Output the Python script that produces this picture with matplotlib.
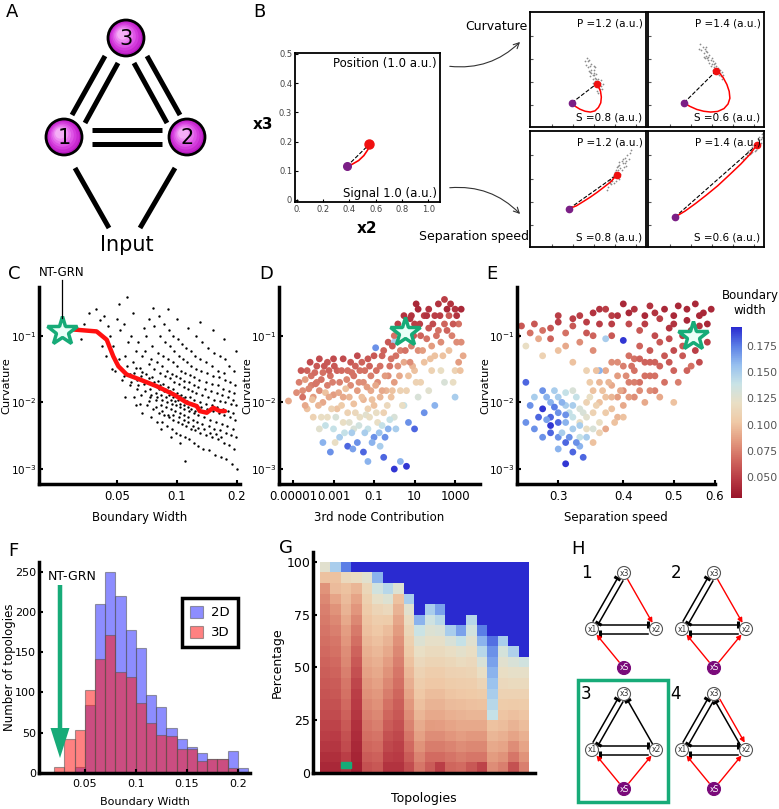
import numpy as np
import matplotlib
matplotlib.use('Agg')
import matplotlib.pyplot as plt
from matplotlib.colors import LinearSegmentedColormap
from matplotlib.patches import Circle, Rectangle, FancyArrow

W, H = 779, 809

# ---- panel B: trajectories ----
b_main_x = [0.38, 0.42, 0.47, 0.51, 0.54, 0.55]
b_main_y = [0.115, 0.122, 0.135, 0.152, 0.172, 0.19]
b_ticks_x = [0, 0.2, 0.4, 0.6, 0.8, 1.0]
b_ticklabels_x = ['0.', '0.2', '0.4', '0.6', '0.8', '1.0']
b_ticks_y = [0, 0.1, 0.2, 0.3, 0.4, 0.5]
b_ticklabels_y = ['0', '0.1', '0.2', '0.3', '0.4', '0.5']

small_titles = [('P =1.2 (a.u.)', 'S =0.8 (a.u.)'), ('P =1.4 (a.u.)', 'S =0.6 (a.u.)'),
                ('P =1.2 (a.u.)', 'S =0.8 (a.u.)'), ('P =1.4 (a.u.)', 'S =0.6 (a.u.)')]
small_curve_x = [
    [0.36, 0.39, 0.43, 0.475, 0.52, 0.56, 0.59, 0.61, 0.615, 0.608, 0.59, 0.574],
    [0.31, 0.36, 0.42, 0.48, 0.54, 0.60, 0.655, 0.69, 0.706, 0.70, 0.68, 0.648, 0.62, 0.59],
    [0.337, 0.40, 0.46, 0.52, 0.58, 0.64, 0.70, 0.746],
    [0.23, 0.32, 0.41, 0.50, 0.60, 0.70, 0.80, 0.88, 0.937],
]
small_curve_y = [
    [0.21, 0.18, 0.155, 0.137, 0.13, 0.14, 0.17, 0.21, 0.26, 0.31, 0.35, 0.375],
    [0.21, 0.18, 0.153, 0.137, 0.13, 0.135, 0.16, 0.20, 0.25, 0.31, 0.37, 0.43, 0.465, 0.49],
    [0.33, 0.355, 0.392, 0.43, 0.472, 0.518, 0.565, 0.62],
    [0.256, 0.31, 0.375, 0.445, 0.527, 0.62, 0.715, 0.80, 0.879],
]
small_clouds = [
    [(0.50, 0.57), (0.52, 0.53), (0.51, 0.49), (0.53, 0.47), (0.55, 0.45), (0.54, 0.42), (0.56, 0.40),
     (0.58, 0.40), (0.57, 0.36), (0.59, 0.35), (0.60, 0.33), (0.58, 0.31), (0.55, 0.50), (0.53, 0.55),
     (0.56, 0.43), (0.60, 0.38), (0.52, 0.44), (0.57, 0.46), (0.49, 0.60), (0.54, 0.38), (0.48, 0.54),
     (0.51, 0.58), (0.53, 0.50), (0.55, 0.47), (0.57, 0.42), (0.59, 0.42), (0.61, 0.36), (0.56, 0.52),
     (0.50, 0.52), (0.62, 0.33), (0.54, 0.45), (0.58, 0.37), (0.47, 0.57), (0.61, 0.41), (0.52, 0.48),
     (0.59, 0.30), (0.63, 0.37), (0.55, 0.53)],
    [(0.46, 0.67), (0.48, 0.64), (0.50, 0.62), (0.49, 0.60), (0.52, 0.58), (0.53, 0.56), (0.55, 0.55),
     (0.54, 0.53), (0.57, 0.52), (0.58, 0.50), (0.60, 0.48), (0.62, 0.47), (0.61, 0.45), (0.63, 0.44),
     (0.56, 0.57), (0.51, 0.65), (0.59, 0.53), (0.64, 0.42), (0.47, 0.70), (0.55, 0.60), (0.45, 0.72),
     (0.50, 0.66), (0.52, 0.61), (0.53, 0.63), (0.57, 0.55), (0.60, 0.51), (0.62, 0.50), (0.49, 0.68),
     (0.56, 0.50), (0.65, 0.45), (0.58, 0.56), (0.54, 0.58), (0.44, 0.68), (0.51, 0.60), (0.59, 0.47),
     (0.48, 0.61), (0.64, 0.48), (0.50, 0.70)],
    [(0.67, 0.52), (0.69, 0.55), (0.71, 0.57), (0.73, 0.60), (0.75, 0.64), (0.76, 0.66), (0.78, 0.68),
     (0.77, 0.71), (0.80, 0.72), (0.79, 0.74), (0.82, 0.77), (0.84, 0.79), (0.72, 0.62), (0.74, 0.57),
     (0.78, 0.63), (0.81, 0.69), (0.75, 0.69), (0.70, 0.54), (0.86, 0.81), (0.83, 0.74), (0.68, 0.56),
     (0.73, 0.65), (0.76, 0.61), (0.79, 0.66), (0.80, 0.76), (0.85, 0.76), (0.77, 0.73), (0.71, 0.60),
     (0.74, 0.66), (0.82, 0.72), (0.87, 0.84), (0.66, 0.49), (0.72, 0.55), (0.77, 0.59), (0.83, 0.70),
     (0.76, 0.70), (0.69, 0.58)],
    [(0.82, 0.76), (0.85, 0.79), (0.87, 0.81), (0.89, 0.84), (0.90, 0.82), (0.92, 0.86), (0.94, 0.90),
     (0.95, 0.87), (0.96, 0.92), (0.97, 0.93), (0.98, 0.95), (0.99, 0.94), (0.93, 0.84), (0.91, 0.88),
     (0.96, 0.89), (0.88, 0.80), (0.84, 0.77), (0.98, 0.97), (0.86, 0.83), (0.90, 0.86), (0.93, 0.89),
     (0.95, 0.93), (0.97, 0.90), (0.99, 0.98), (0.92, 0.83), (0.89, 0.81), (0.94, 0.85), (0.96, 0.95)],
]

# ---- panel C: curvature vs boundary width ----
c_points = [
    (0.034, 0.15), (0.036, 0.22), (0.033, 0.09), (0.038, 0.12), (0.041, 0.17), (0.039, 0.25), (0.042, 0.07),
    (0.044, 0.05), (0.046, 0.10), (0.043, 0.20), (0.047, 0.032), (0.045, 0.14),
    (0.049, 0.030), (0.051, 0.045), (0.048, 0.07), (0.052, 0.12), (0.050, 0.18), (0.053, 0.022), (0.051, 0.30),
    (0.054, 0.025), (0.056, 0.035), (0.055, 0.05), (0.057, 0.08), (0.054, 0.15), (0.058, 0.018), (0.056, 0.38), (0.055, 0.012),
    (0.059, 0.020), (0.061, 0.028), (0.060, 0.040), (0.062, 0.060), (0.059, 0.10), (0.063, 0.016), (0.061, 0.012), (0.060, 0.22), (0.062, 0.009),
    (0.064, 0.018), (0.066, 0.025), (0.065, 0.033), (0.067, 0.050), (0.064, 0.08), (0.068, 0.13), (0.066, 0.013), (0.065, 0.0095), (0.067, 0.007),
    (0.069, 0.015), (0.071, 0.020), (0.070, 0.027), (0.072, 0.038), (0.069, 0.060), (0.073, 0.012), (0.071, 0.009), (0.070, 0.10), (0.072, 0.18), (0.074, 0.006),
    (0.074, 0.013), (0.076, 0.018), (0.075, 0.024), (0.077, 0.032), (0.074, 0.045), (0.078, 0.011), (0.076, 0.008), (0.075, 0.07), (0.077, 0.14), (0.079, 0.005), (0.076, 0.26),
    (0.079, 0.012), (0.081, 0.016), (0.080, 0.021), (0.082, 0.028), (0.079, 0.040), (0.083, 0.009), (0.081, 0.007), (0.080, 0.055), (0.082, 0.10), (0.084, 0.005), (0.081, 0.20), (0.083, 0.004),
    (0.084, 0.011), (0.086, 0.015), (0.085, 0.019), (0.087, 0.025), (0.084, 0.035), (0.088, 0.0085), (0.086, 0.0065), (0.085, 0.05), (0.087, 0.08), (0.089, 0.0045), (0.086, 0.15),
    (0.089, 0.010), (0.091, 0.013), (0.090, 0.017), (0.092, 0.023), (0.089, 0.030), (0.093, 0.008), (0.091, 0.006), (0.090, 0.045), (0.092, 0.07), (0.094, 0.004), (0.091, 0.12), (0.093, 0.003), (0.090, 0.25),
    (0.094, 0.0095), (0.096, 0.012), (0.095, 0.016), (0.097, 0.020), (0.094, 0.027), (0.098, 0.0075), (0.096, 0.0055), (0.095, 0.04), (0.097, 0.06), (0.099, 0.0035), (0.096, 0.10),
    (0.099, 0.009), (0.101, 0.011), (0.100, 0.014), (0.102, 0.019), (0.099, 0.025), (0.103, 0.007), (0.101, 0.005), (0.100, 0.035), (0.102, 0.05), (0.104, 0.0032), (0.101, 0.09), (0.100, 0.18), (0.103, 0.0025),
    (0.104, 0.0085), (0.107, 0.011), (0.105, 0.013), (0.108, 0.017), (0.104, 0.023), (0.109, 0.0065), (0.106, 0.0048), (0.105, 0.03), (0.107, 0.045), (0.110, 0.003), (0.106, 0.075),
    (0.109, 0.008), (0.112, 0.010), (0.110, 0.012), (0.113, 0.016), (0.109, 0.021), (0.114, 0.006), (0.111, 0.0045), (0.110, 0.028), (0.112, 0.04), (0.115, 0.0028), (0.111, 0.065), (0.113, 0.13), (0.110, 0.0013),
    (0.115, 0.0075), (0.118, 0.0095), (0.116, 0.012), (0.119, 0.015), (0.115, 0.020), (0.120, 0.0055), (0.117, 0.004), (0.116, 0.026), (0.118, 0.035), (0.121, 0.0025), (0.117, 0.06),
    (0.121, 0.007), (0.124, 0.009), (0.122, 0.011), (0.125, 0.014), (0.121, 0.018), (0.126, 0.005), (0.123, 0.0038), (0.122, 0.024), (0.124, 0.032), (0.127, 0.0022), (0.123, 0.05), (0.125, 0.10),
    (0.128, 0.0065), (0.132, 0.0085), (0.130, 0.010), (0.133, 0.013), (0.128, 0.017), (0.134, 0.0048), (0.131, 0.0035), (0.129, 0.022), (0.132, 0.03), (0.135, 0.002), (0.130, 0.045), (0.133, 0.08), (0.131, 0.16),
    (0.137, 0.006), (0.141, 0.008), (0.139, 0.0095), (0.143, 0.012), (0.138, 0.016), (0.144, 0.0045), (0.140, 0.0032), (0.139, 0.02), (0.142, 0.028), (0.145, 0.0019), (0.140, 0.04), (0.143, 0.065),
    (0.147, 0.0055), (0.151, 0.0075), (0.149, 0.009), (0.153, 0.011), (0.148, 0.015), (0.154, 0.004), (0.150, 0.003), (0.149, 0.019), (0.152, 0.025), (0.155, 0.0016), (0.150, 0.035), (0.153, 0.055), (0.151, 0.12),
    (0.157, 0.005), (0.162, 0.007), (0.159, 0.0085), (0.164, 0.0105), (0.158, 0.014), (0.165, 0.0038), (0.161, 0.0028), (0.160, 0.018), (0.163, 0.024), (0.166, 0.0015), (0.161, 0.03), (0.164, 0.05),
    (0.168, 0.0048), (0.173, 0.0065), (0.170, 0.008), (0.175, 0.010), (0.169, 0.013), (0.176, 0.0035), (0.172, 0.0025), (0.171, 0.016), (0.174, 0.022), (0.177, 0.0014), (0.172, 0.028), (0.175, 0.045), (0.173, 0.09),
    (0.179, 0.0045), (0.184, 0.006), (0.181, 0.0075), (0.186, 0.0095), (0.180, 0.012), (0.187, 0.0032), (0.183, 0.0023), (0.182, 0.015), (0.185, 0.02), (0.188, 0.0012), (0.183, 0.035),
    (0.190, 0.004), (0.195, 0.0055), (0.192, 0.007), (0.197, 0.009), (0.191, 0.011), (0.198, 0.003), (0.194, 0.002), (0.193, 0.014), (0.196, 0.018), (0.199, 0.001), (0.194, 0.03), (0.197, 0.06),
    (0.058, 0.027), (0.063, 0.022), (0.068, 0.019), (0.073, 0.016), (0.078, 0.014), (0.083, 0.013), (0.088, 0.012),
    (0.093, 0.011), (0.098, 0.0105), (0.103, 0.0095), (0.108, 0.009), (0.113, 0.0085), (0.118, 0.008), (0.123, 0.0075),
    (0.062, 0.033), (0.067, 0.029), (0.072, 0.023), (0.077, 0.02), (0.082, 0.018), (0.087, 0.016), (0.092, 0.015),
    (0.097, 0.0135), (0.102, 0.0125), (0.107, 0.0115), (0.112, 0.0105), (0.117, 0.0098), (0.127, 0.0085), (0.137, 0.0075),
    (0.072, 0.0105), (0.078, 0.0085), (0.084, 0.0075), (0.09, 0.0065), (0.096, 0.0065), (0.102, 0.006), (0.108, 0.0055),
    (0.114, 0.005), (0.12, 0.0045), (0.128, 0.0042), (0.136, 0.004), (0.146, 0.0035), (0.156, 0.0033), (0.166, 0.003),
]
c_line_x = [0.0249, 0.0395, 0.0444, 0.0479, 0.0508, 0.0559, 0.0652, 0.079, 0.096, 0.112, 0.1256, 0.130, 0.141, 0.152, 0.164, 0.174]
c_line_y = [0.130, 0.116, 0.087, 0.049, 0.0348, 0.0262, 0.022, 0.0175, 0.0132, 0.0099, 0.0088, 0.0074, 0.0070, 0.0083, 0.0074, 0.0074]
nt_grn_width, nt_grn_curv = 0.0265, 0.119

# ---- panel D: curvature vs 3rd node contribution (x, curvature, boundary width) ----
d_points = [
    (6e-6, 0.0105, 0.09), (2e-5, 0.02, 0.075), (3e-5, 0.015, 0.08), (3e-5, 0.012, 0.07), (5e-5, 0.03, 0.065),
    (5e-5, 0.008, 0.10), (8e-5, 0.025, 0.07), (8e-5, 0.018, 0.075), (1e-4, 0.012, 0.085), (1e-4, 0.006, 0.11),
    (1.5e-4, 0.035, 0.06), (1.5e-4, 0.02, 0.075), (2e-4, 0.045, 0.055), (2e-4, 0.015, 0.08), (2e-4, 0.004, 0.125),
    (3e-4, 0.028, 0.07), (3e-4, 0.01, 0.09), (3e-4, 0.0025, 0.16), (5e-4, 0.04, 0.06), (5e-4, 0.018, 0.075),
    (5e-4, 0.006, 0.12), (7e-4, 0.025, 0.07), (7e-4, 0.0018, 0.17), (1e-3, 0.045, 0.055), (1e-3, 0.013, 0.085),
    (1e-3, 0.004, 0.14), (1.2e-3, 0.0025, 0.12), (4e-5, 0.022, 0.085), (1.2e-4, 0.028, 0.068), (4e-4, 0.014, 0.1),
    (1.5e-3, 0.03, 0.065), (1.5e-3, 0.008, 0.1), (2e-3, 0.02, 0.075), (2e-3, 0.003, 0.15), (3e-3, 0.045, 0.055),
    (3e-3, 0.012, 0.09), (3e-3, 0.005, 0.12), (5e-3, 0.03, 0.07), (5e-3, 0.0022, 0.18), (5e-3, 0.007, 0.11),
    (7e-3, 0.018, 0.08), (7e-3, 0.04, 0.06), (1e-2, 0.025, 0.07), (1e-2, 0.004, 0.13), (1e-2, 0.0095, 0.10),
    (1.5e-2, 0.05, 0.055), (1.5e-2, 0.015, 0.085), (1.5e-2, 0.0025, 0.17), (2e-2, 0.03, 0.07), (2e-2, 0.006, 0.12),
    (3e-2, 0.02, 0.08), (3e-2, 0.0018, 0.18), (3e-2, 0.011, 0.095), (5e-2, 0.045, 0.06), (5e-2, 0.004, 0.14),
    (5e-2, 0.008, 0.11), (5e-2, 0.0013, 0.16), (7e-2, 0.025, 0.075), (7e-2, 0.015, 0.09), (0.1, 0.05, 0.06),
    (0.1, 0.003, 0.17), (0.1, 0.009, 0.10), (0.15, 0.02, 0.08), (0.15, 0.005, 0.12), (0.2, 0.035, 0.07),
    (0.2, 0.012, 0.095), (0.2, 0.0022, 0.15), (0.3, 0.06, 0.065), (0.3, 0.007, 0.11), (0.3, 0.0015, 0.18),
    (0.5, 0.025, 0.08), (0.5, 0.004, 0.16), (0.5, 0.08, 0.06), (0.7, 0.012, 0.10), (0.7, 0.045, 0.07),
    (1.0, 0.001, 0.19), (1.0, 0.02, 0.085), (1.0, 0.006, 0.13), (4e-3, 0.016, 0.1), (8e-3, 0.0035, 0.15),
    (2.5e-2, 0.04, 0.065), (4e-2, 0.0065, 0.125), (0.12, 0.018, 0.09), (0.25, 0.0045, 0.14), (0.4, 0.015, 0.095),
    (1.0, 0.10, 0.07), (1.0, 0.08, 0.15), (1.5, 0.035, 0.08), (1.5, 0.15, 0.05), (2.0, 0.0013, 0.16),
    (2.0, 0.06, 0.075), (2.0, 0.015, 0.11), (3.0, 0.20, 0.045), (3.0, 0.009, 0.14), (3.0, 0.04, 0.09),
    (4.0, 0.0011, 0.19), (5.0, 0.12, 0.05), (5.0, 0.025, 0.10), (5.0, 0.005, 0.17), (7.0, 0.07, 0.075),
    (7.0, 0.20, 0.045), (10, 0.03, 0.10), (10, 0.15, 0.05), (10, 0.004, 0.18), (15, 0.25, 0.04),
    (15, 0.06, 0.08), (15, 0.012, 0.13), (20, 0.10, 0.065), (20, 0.02, 0.11), (30, 0.20, 0.05),
    (30, 0.04, 0.10), (30, 0.007, 0.17), (50, 0.13, 0.06), (50, 0.25, 0.045), (50, 0.015, 0.125),
    (70, 0.07, 0.085), (70, 0.03, 0.11), (100, 0.20, 0.05), (100, 0.05, 0.10), (100, 0.009, 0.16),
    (150, 0.12, 0.07), (150, 0.30, 0.045), (200, 0.03, 0.12), (200, 0.08, 0.08), (300, 0.35, 0.05),
    (300, 0.15, 0.065), (300, 0.02, 0.13), (500, 0.20, 0.06), (500, 0.06, 0.10), (700, 0.10, 0.075),
    (1000, 0.25, 0.045), (1000, 0.012, 0.15), (1000, 0.03, 0.11), (1500, 0.15, 0.07), (1500, 0.04, 0.085),
    (2000, 0.08, 0.08), (2500, 0.05, 0.09), (8.0, 0.035, 0.095), (40, 0.09, 0.07), (400, 0.25, 0.04),
    (1.5e-5, 0.014, 0.08), (2.5e-5, 0.03, 0.06), (4e-5, 0.009, 0.09), (6e-5, 0.016, 0.078), (7e-5, 0.04, 0.055),
    (9e-5, 0.011, 0.1), (1.3e-4, 0.019, 0.072), (1.8e-4, 0.009, 0.095), (2.5e-4, 0.022, 0.07), (2.5e-4, 0.006, 0.12),
    (3.5e-4, 0.035, 0.06), (4e-4, 0.0045, 0.14), (6e-4, 0.012, 0.09), (6e-4, 0.03, 0.065), (8e-4, 0.008, 0.11),
    (9e-4, 0.02, 0.075), (1.1e-3, 0.035, 0.06), (1.3e-3, 0.006, 0.13), (1.8e-3, 0.014, 0.09), (2.5e-3, 0.009, 0.105),
    (2.5e-3, 0.03, 0.068), (3.5e-3, 0.0035, 0.14), (4.5e-3, 0.022, 0.078), (6e-3, 0.012, 0.095), (6e-3, 0.005, 0.125),
    (8e-3, 0.028, 0.07), (9e-3, 0.002, 0.165), (1.2e-2, 0.035, 0.065), (1.2e-2, 0.007, 0.115), (1.8e-2, 0.02, 0.08),
    (1.8e-2, 0.0045, 0.135), (2.5e-2, 0.012, 0.1), (3.5e-2, 0.03, 0.07), (3.5e-2, 0.0035, 0.15), (4.5e-2, 0.017, 0.085),
    (6e-2, 0.006, 0.12), (6e-2, 0.035, 0.065), (8e-2, 0.0025, 0.16), (8e-2, 0.011, 0.1), (0.13, 0.03, 0.07),
    (0.13, 0.007, 0.12), (0.18, 0.0035, 0.155), (0.25, 0.015, 0.09), (0.25, 0.05, 0.065), (0.35, 0.003, 0.17),
    (0.35, 0.025, 0.085), (0.45, 0.009, 0.115), (0.6, 0.035, 0.07), (0.6, 0.0055, 0.14), (0.8, 0.015, 0.1),
    (0.8, 0.07, 0.06), (1.2, 0.004, 0.15), (1.2, 0.05, 0.07), (1.8, 0.025, 0.09), (2.5, 0.009, 0.12),
    (2.5, 0.10, 0.06), (3.5, 0.06, 0.07), (4.0, 0.015, 0.11), (6.0, 0.04, 0.08), (6.0, 0.18, 0.045),
    (9.0, 0.10, 0.06), (12, 0.02, 0.11), (12, 0.30, 0.04), (18, 0.15, 0.05), (25, 0.06, 0.085),
    (40, 0.20, 0.045), (60, 0.045, 0.10), (80, 0.15, 0.055), (120, 0.10, 0.07), (180, 0.20, 0.05),
    (250, 0.05, 0.10), (400, 0.12, 0.065), (600, 0.30, 0.045), (800, 0.15, 0.06), (1200, 0.08, 0.08),
    (1200, 0.20, 0.045), (2000, 0.25, 0.04), (800, 0.02, 0.12), (1800, 0.03, 0.10), (0.12, 0.066, 0.17),
]
d_star = (3.5, 0.112)

# ---- panel E: curvature vs separation speed ----
e_points = [
    (0.26, 0.02, 0.18), (0.26, 0.005, 0.17), (0.27, 0.012, 0.15), (0.27, 0.004, 0.17), (0.28, 0.008, 0.19),
    (0.28, 0.015, 0.17), (0.28, 0.003, 0.17), (0.29, 0.006, 0.18), (0.29, 0.01, 0.16), (0.29, 0.0045, 0.19),
    (0.30, 0.007, 0.17), (0.30, 0.012, 0.15), (0.30, 0.003, 0.17), (0.30, 0.002, 0.16), (0.31, 0.0012, 0.19),
    (0.31, 0.005, 0.16), (0.31, 0.009, 0.15), (0.31, 0.0025, 0.18), (0.32, 0.004, 0.15), (0.32, 0.006, 0.14),
    (0.32, 0.0018, 0.18), (0.32, 0.015, 0.13), (0.33, 0.003, 0.14), (0.33, 0.008, 0.13), (0.33, 0.005, 0.12),
    (0.33, 0.0022, 0.16), (0.285, 0.0055, 0.165), (0.295, 0.0085, 0.175), (0.305, 0.0035, 0.15), (0.315, 0.007, 0.14),
    (0.25, 0.10, 0.08), (0.26, 0.07, 0.12), (0.27, 0.15, 0.06), (0.28, 0.12, 0.07), (0.28, 0.05, 0.11),
    (0.29, 0.09, 0.065), (0.30, 0.06, 0.10), (0.30, 0.16, 0.05), (0.31, 0.11, 0.07), (0.32, 0.04, 0.10),
    (0.32, 0.14, 0.06), (0.33, 0.20, 0.05), (0.33, 0.08, 0.08), (0.34, 0.11, 0.06), (0.34, 0.03, 0.11),
    (0.35, 0.22, 0.045), (0.35, 0.06, 0.08), (0.36, 0.15, 0.05), (0.36, 0.25, 0.045),
    (0.34, 0.01, 0.11), (0.34, 0.004, 0.12), (0.35, 0.015, 0.10), (0.35, 0.007, 0.11), (0.35, 0.0025, 0.10),
    (0.36, 0.02, 0.095), (0.36, 0.01, 0.10), (0.36, 0.005, 0.12), (0.37, 0.03, 0.09), (0.37, 0.012, 0.10),
    (0.37, 0.004, 0.09), (0.38, 0.018, 0.09), (0.38, 0.008, 0.10), (0.38, 0.04, 0.08), (0.39, 0.025, 0.085),
    (0.39, 0.006, 0.095), (0.40, 0.015, 0.08), (0.40, 0.035, 0.075), (0.40, 0.009, 0.09), (0.345, 0.02, 0.105),
    (0.41, 0.05, 0.07), (0.41, 0.02, 0.075), (0.42, 0.03, 0.07), (0.42, 0.012, 0.08), (0.43, 0.07, 0.065),
    (0.43, 0.02, 0.07), (0.44, 0.04, 0.065), (0.44, 0.01, 0.09), (0.45, 0.025, 0.07), (0.45, 0.06, 0.06),
    (0.46, 0.015, 0.075), (0.46, 0.04, 0.065), (0.47, 0.08, 0.06), (0.48, 0.02, 0.07), (0.48, 0.05, 0.06),
    (0.50, 0.03, 0.065), (0.50, 0.01, 0.10), (0.52, 0.05, 0.06), (0.54, 0.035, 0.07), (0.56, 0.04, 0.055),
    (0.37, 0.25, 0.05), (0.38, 0.10, 0.06), (0.39, 0.20, 0.045), (0.40, 0.30, 0.04), (0.41, 0.15, 0.055),
    (0.42, 0.25, 0.045), (0.43, 0.12, 0.06), (0.44, 0.20, 0.04), (0.45, 0.28, 0.045), (0.46, 0.10, 0.055),
    (0.47, 0.18, 0.05), (0.48, 0.25, 0.04), (0.49, 0.13, 0.045), (0.50, 0.20, 0.04), (0.51, 0.28, 0.04),
    (0.52, 0.10, 0.05), (0.53, 0.17, 0.04), (0.55, 0.30, 0.04), (0.56, 0.14, 0.045), (0.57, 0.22, 0.04),
    (0.58, 0.08, 0.05), (0.55, 0.06, 0.05), (0.52, 0.07, 0.06), (0.59, 0.25, 0.04),
    (0.37, 0.09, 0.15), (0.40, 0.085, 0.19), (0.36, 0.03, 0.16), (0.39, 0.012, 0.085), (0.42, 0.045, 0.07),
    (0.265, 0.009, 0.17), (0.275, 0.006, 0.18), (0.285, 0.012, 0.16), (0.29, 0.0035, 0.18), (0.295, 0.015, 0.15),
    (0.30, 0.005, 0.18), (0.305, 0.01, 0.16), (0.31, 0.0065, 0.17), (0.31, 0.014, 0.14), (0.315, 0.003, 0.17),
    (0.32, 0.009, 0.15), (0.325, 0.0025, 0.17), (0.325, 0.012, 0.14), (0.33, 0.0045, 0.15), (0.335, 0.007, 0.13),
    (0.335, 0.0015, 0.18), (0.34, 0.003, 0.15), (0.34, 0.006, 0.125), (0.345, 0.012, 0.12), (0.35, 0.004, 0.13),
    (0.355, 0.009, 0.11), (0.355, 0.03, 0.10), (0.36, 0.0035, 0.11), (0.365, 0.015, 0.10), (0.37, 0.007, 0.105),
    (0.375, 0.02, 0.095), (0.38, 0.012, 0.095), (0.385, 0.005, 0.10), (0.39, 0.04, 0.08), (0.395, 0.015, 0.09),
    (0.40, 0.006, 0.10), (0.405, 0.025, 0.08), (0.41, 0.012, 0.085), (0.415, 0.035, 0.07), (0.42, 0.02, 0.075),
    (0.43, 0.015, 0.08), (0.43, 0.045, 0.065), (0.44, 0.025, 0.07), (0.45, 0.015, 0.08), (0.45, 0.04, 0.065),
    (0.46, 0.025, 0.07), (0.47, 0.035, 0.065), (0.47, 0.012, 0.09), (0.49, 0.04, 0.06), (0.50, 0.06, 0.055),
    (0.51, 0.02, 0.075), (0.53, 0.03, 0.065), (0.255, 0.14, 0.06), (0.265, 0.11, 0.07), (0.275, 0.09, 0.09),
    (0.29, 0.13, 0.06), (0.30, 0.20, 0.05), (0.31, 0.07, 0.09), (0.32, 0.18, 0.05), (0.34, 0.16, 0.05),
    (0.35, 0.10, 0.065), (0.38, 0.15, 0.05), (0.38, 0.20, 0.05), (0.41, 0.22, 0.04), (0.44, 0.15, 0.05),
    (0.46, 0.22, 0.045), (0.49, 0.09, 0.055), (0.50, 0.15, 0.045), (0.54, 0.12, 0.045), (0.56, 0.20, 0.04),
    (0.58, 0.15, 0.04), (0.53, 0.25, 0.04),
]
e_star = (0.544, 0.10)

# ---- panel F: histograms ----
f_edges = [0.02, 0.03, 0.04, 0.05, 0.06, 0.07, 0.08, 0.09, 0.10, 0.11, 0.12, 0.13, 0.14, 0.15, 0.16, 0.17, 0.18, 0.19, 0.20, 0.21]
f_2d = [0, 0, 8, 84, 210, 250, 220, 177, 155, 97, 82, 56, 42, 32, 25, 18, 18, 27, 6]
f_3d = [8, 42, 54, 103, 141, 171, 125, 119, 87, 62, 47, 46, 30, 30, 15, 18, 18, 6, 0]

# ---- panel G: boundary width per topology, 5% rows, bottom to top ----
g_cols = [
    [0.040, 0.043, 0.047, 0.050, 0.052, 0.055, 0.057, 0.059, 0.061, 0.063, 0.065, 0.067, 0.069, 0.071, 0.073, 0.075, 0.078, 0.082, 0.100, 0.125],
    [0.040, 0.043, 0.046, 0.049, 0.052, 0.055, 0.058, 0.060, 0.062, 0.065, 0.067, 0.070, 0.072, 0.075, 0.078, 0.082, 0.088, 0.097, 0.100, 0.150],
    [0.045, 0.050, 0.055, 0.058, 0.061, 0.064, 0.067, 0.070, 0.072, 0.075, 0.078, 0.080, 0.083, 0.086, 0.090, 0.094, 0.097, 0.100, 0.115, 0.175],
    [0.036, 0.038, 0.040, 0.042, 0.044, 0.046, 0.048, 0.050, 0.053, 0.057, 0.061, 0.065, 0.069, 0.073, 0.078, 0.083, 0.088, 0.095, 0.118, 0.193],
    [0.058, 0.062, 0.066, 0.069, 0.072, 0.075, 0.078, 0.081, 0.084, 0.087, 0.090, 0.093, 0.096, 0.099, 0.101, 0.104, 0.108, 0.113, 0.125, 0.193],
    [0.060, 0.064, 0.068, 0.071, 0.075, 0.078, 0.081, 0.084, 0.087, 0.090, 0.093, 0.096, 0.099, 0.102, 0.106, 0.112, 0.122, 0.135, 0.160, 0.193],
    [0.045, 0.050, 0.054, 0.058, 0.062, 0.066, 0.070, 0.074, 0.078, 0.082, 0.086, 0.090, 0.094, 0.098, 0.105, 0.115, 0.128, 0.145, 0.193, 0.193],
    [0.045, 0.048, 0.051, 0.054, 0.057, 0.060, 0.063, 0.066, 0.069, 0.072, 0.075, 0.078, 0.081, 0.085, 0.089, 0.094, 0.100, 0.128, 0.193, 0.193],
    [0.056, 0.062, 0.067, 0.072, 0.076, 0.080, 0.084, 0.088, 0.092, 0.096, 0.100, 0.104, 0.108, 0.113, 0.118, 0.125, 0.150, 0.193, 0.193, 0.193],
    [0.072, 0.077, 0.082, 0.087, 0.091, 0.095, 0.099, 0.102, 0.106, 0.110, 0.115, 0.121, 0.128, 0.138, 0.160, 0.193, 0.193, 0.193, 0.193, 0.193],
    [0.062, 0.068, 0.074, 0.080, 0.085, 0.090, 0.094, 0.098, 0.102, 0.106, 0.111, 0.116, 0.122, 0.128, 0.136, 0.150, 0.193, 0.193, 0.193, 0.193],
    [0.050, 0.068, 0.074, 0.080, 0.086, 0.090, 0.094, 0.098, 0.102, 0.106, 0.111, 0.116, 0.122, 0.130, 0.145, 0.165, 0.193, 0.193, 0.193, 0.193],
    [0.066, 0.071, 0.077, 0.083, 0.088, 0.093, 0.097, 0.101, 0.105, 0.109, 0.114, 0.120, 0.130, 0.150, 0.193, 0.193, 0.193, 0.193, 0.193, 0.193],
    [0.068, 0.074, 0.080, 0.086, 0.090, 0.094, 0.098, 0.102, 0.106, 0.110, 0.117, 0.124, 0.140, 0.165, 0.193, 0.193, 0.193, 0.193, 0.193, 0.193],
    [0.060, 0.072, 0.078, 0.084, 0.090, 0.095, 0.099, 0.103, 0.107, 0.111, 0.115, 0.120, 0.126, 0.134, 0.145, 0.193, 0.193, 0.193, 0.193, 0.193],
    [0.052, 0.072, 0.078, 0.084, 0.090, 0.095, 0.100, 0.105, 0.112, 0.120, 0.130, 0.145, 0.160, 0.175, 0.193, 0.193, 0.193, 0.193, 0.193, 0.193],
    [0.080, 0.085, 0.090, 0.095, 0.100, 0.140, 0.145, 0.150, 0.155, 0.160, 0.165, 0.170, 0.178, 0.193, 0.193, 0.193, 0.193, 0.193, 0.193, 0.193],
    [0.075, 0.082, 0.088, 0.093, 0.098, 0.101, 0.105, 0.110, 0.115, 0.120, 0.125, 0.132, 0.150, 0.193, 0.193, 0.193, 0.193, 0.193, 0.193, 0.193],
    [0.058, 0.072, 0.080, 0.088, 0.094, 0.099, 0.104, 0.110, 0.116, 0.122, 0.130, 0.148, 0.193, 0.193, 0.193, 0.193, 0.193, 0.193, 0.193, 0.193],
    [0.075, 0.082, 0.088, 0.093, 0.098, 0.101, 0.105, 0.110, 0.116, 0.122, 0.135, 0.193, 0.193, 0.193, 0.193, 0.193, 0.193, 0.193, 0.193, 0.193],
]
g_marked_topology = 2

GREEN = '#17ab78'
bw_cmap = LinearSegmentedColormap.from_list(
    'bw', ['#99142a', '#b83a44', '#d0675e', '#e39a7f', '#efc9a6', '#e9dfc5',
           '#c9e3e6', '#97c0ef', '#5b7fe6', '#2a2ad0'])
BW_MIN, BW_MAX = 0.03, 0.193

fig = plt.figure(figsize=(W / 100, H / 100), dpi=100)


def px_axes(l, t, r, b):
    return fig.add_axes([l / W, 1 - b / H, (r - l) / W, (b - t) / H])


def style(ax):
    for s in ['top', 'right']:
        ax.spines[s].set_visible(False)
    for s in ['left', 'bottom']:
        ax.spines[s].set_linewidth(2.5)
    ax.tick_params(direction='in', length=3, width=1.5, labelsize=8.5, pad=4)
    ax.tick_params(axis='y', pad=2)


# ---------------- B ----------------
axb = px_axes(295, 53, 440, 202)
axb.plot([b_main_x[0], b_main_x[-1]], [b_main_y[0], b_main_y[-1]], 'k--', lw=0.8)
axb.plot(b_main_x, b_main_y, color='red', lw=1.2)
axb.plot(b_main_x[0], b_main_y[0], 'o', color='#7b1f86', ms=5.5)
axb.plot(b_main_x[-1], b_main_y[-1], 'o', color='#f01010', ms=6.5)
axb.set_xlim(-0.015, 1.09)
axb.set_ylim(-0.007, 0.503)
axb.set_xticks(b_ticks_x)
axb.set_xticklabels(b_ticklabels_x)
axb.set_yticks(b_ticks_y)
axb.set_yticklabels(b_ticklabels_y)
axb.tick_params(direction='in', length=2, labelsize=6, labelcolor='#444', pad=2)
for s in axb.spines.values():
    s.set_linewidth(1.3)
axb.text(0.98, 0.93, 'Position (1.0 a.u.)', transform=axb.transAxes, ha='right', va='center', fontsize=8.5)
axb.text(0.98, 0.06, 'Signal 1.0 (a.u.)', transform=axb.transAxes, ha='right', va='center', fontsize=8.5)

small_boxes = [(530, 12, 646, 127), (648, 12, 764, 127), (530, 131, 646, 247), (648, 131, 764, 247)]
for i, box in enumerate(small_boxes):
    ax = px_axes(*box)
    cloud = np.array(small_clouds[i])
    ax.scatter(cloud[:, 0], cloud[:, 1], s=1.6, color='#8c8c8c', lw=0)
    cx, cy = small_curve_x[i], small_curve_y[i]
    ax.plot([cx[0], cx[-1]], [cy[0], cy[-1]], 'k--', lw=0.8)
    ax.plot(cx, cy, color='red', lw=1.1)
    ax.plot(cx[0], cy[0], 'o', color='#7b1f86', ms=4.5)
    ax.plot(cx[-1], cy[-1], 'o', color='#f01010', ms=4.5)
    ax.set_xlim(0, 1)
    ax.set_ylim(0, 1)
    ax.set_xticks([0.19, 0.37, 0.55, 0.73, 0.91])
    ax.set_yticks([0.19, 0.39, 0.59, 0.79])
    ax.set_xticklabels([])
    ax.set_yticklabels([])
    ax.tick_params(direction='in', length=2, width=0.8, colors='#555')
    for s in ax.spines.values():
        s.set_linewidth(1.3)
    ax.text(0.97, 0.9, small_titles[i][0], transform=ax.transAxes, ha='right', va='center', fontsize=7.5)
    ax.text(0.97, 0.08, small_titles[i][1], transform=ax.transAxes, ha='right', va='center', fontsize=7.5)

# ---------------- C ----------------
axc = px_axes(39, 287, 240, 484)
style(axc)
cp = np.array(c_points)
axc.scatter(cp[:, 0], cp[:, 1], s=3, color='black', lw=0)
axc.plot(c_line_x, c_line_y, color='#ff1010', lw=3.2, solid_capstyle='round')
axc.plot(nt_grn_width, nt_grn_curv, marker='*', ms=22, mfc='#eafff8', mec=GREEN, mew=2.5)
axc.set_xscale('log')
axc.set_yscale('log')
axc.set_xlim(0.0203, 0.207)
axc.set_ylim(5.97e-4, 0.538)
axc.set_xticks([0.05, 0.1, 0.2])
axc.set_xticklabels(['0.05', '0.1', '0.2'])
axc.set_yticks([1e-3, 1e-2, 1e-1])
axc.minorticks_off()
axc.tick_params(axis='y', labelsize=7.5)
axc.set_xlabel('Boundary Width', fontsize=8.5)
axc.set_ylabel('Curvature', fontsize=8.2)
axc.xaxis.set_label_coords(0.5, -0.135)
axc.yaxis.set_label_coords(-0.139, 0.5)

# ---------------- D ----------------
axd = px_axes(279, 287, 480, 484)
style(axd)
dp = np.array(d_points)
axd.scatter(dp[:, 0], dp[:, 1], c=dp[:, 2], cmap=bw_cmap, vmin=BW_MIN, vmax=BW_MAX, s=24, lw=0)
axd.plot(*d_star, marker='*', ms=22, mfc='#eafff8', mec=GREEN, mew=2.5)
axd.set_xscale('log')
axd.set_yscale('log')
axd.set_xlim(10 ** -5.69, 10 ** 4.23)
axd.set_ylim(5.97e-4, 0.538)
axd.set_xticks([1e-5, 1e-3, 1e-1, 1e1, 1e3])
axd.set_xticklabels(['0.00001', '0.001', '0.1', '10', '1000'])
axd.set_yticks([1e-3, 1e-2, 1e-1])
axd.minorticks_off()
axd.tick_params(axis='y', labelsize=7.5)
axd.set_xlabel('3rd node Contribution', fontsize=8.5)
axd.set_ylabel('Curvature', fontsize=8.2)
axd.xaxis.set_label_coords(0.5, -0.135)
axd.yaxis.set_label_coords(-0.134, 0.5)

# ---------------- E ----------------
axe = px_axes(517, 287, 715, 484)
style(axe)
ep = np.array(e_points)
sc = axe.scatter(ep[:, 0], ep[:, 1], c=ep[:, 2], cmap=bw_cmap, vmin=BW_MIN, vmax=BW_MAX, s=24, lw=0)
axe.plot(*e_star, marker='*', ms=22, mfc='#eafff8', mec=GREEN, mew=2.5)
axe.set_xscale('log')
axe.set_yscale('log')
axe.set_xlim(0.25, 0.6)
axe.set_ylim(5.97e-4, 0.538)
axe.set_xticks([0.3, 0.4, 0.5, 0.6])
axe.set_xticklabels(['0.3', '0.4', '0.5', '0.6'])
axe.set_yticks([1e-3, 1e-2, 1e-1])
axe.minorticks_off()
axe.tick_params(axis='y', labelsize=7.5)
axe.set_xlabel('Separation speed', fontsize=8.5)
axe.set_ylabel('Curvature', fontsize=8.2)
axe.xaxis.set_label_coords(0.5, -0.135)
axe.yaxis.set_label_coords(-0.136, 0.5)

cax = px_axes(731, 327, 742, 498)
cb = fig.colorbar(sc, cax=cax, ticks=[0.05, 0.075, 0.1, 0.125, 0.15, 0.175], format='%.3f')
cb.outline.set_visible(False)
cax.tick_params(length=0, labelsize=7.8, labelcolor='#555', pad=3)

# ---------------- F ----------------
axf = px_axes(39, 562, 250, 773)
style(axf)
axf.bar(f_edges[:-1], f_2d, width=0.01, align='edge', color='#3030ff', alpha=0.55,
        edgecolor='#555555', lw=0.8, label='2D')
axf.bar(f_edges[:-1], f_3d, width=0.01, align='edge', color='#ff1a1a', alpha=0.55,
        edgecolor='#555555', lw=0.8, label='3D')
axf.set_xlim(0.005, 0.212)
axf.set_ylim(0, 262)
axf.set_xticks([0.05, 0.1, 0.15, 0.2])
axf.set_xticklabels(['0.05', '0.1', '0.15', '0.2'])
axf.set_yticks([0, 50, 100, 150, 200, 250])
axf.tick_params(labelsize=8)
axf.set_xlabel('Boundary Width', fontsize=8)
axf.set_ylabel('Number of topologies', fontsize=8.5)
axf.xaxis.set_label_coords(0.5, -0.114)
axf.yaxis.set_label_coords(-0.109, 0.5)
leg = axf.legend(loc='upper left', bbox_to_anchor=(182 / W, 1 - 598 / H), bbox_transform=fig.transFigure,
                 fancybox=False, edgecolor='black', fontsize=9.5, handlelength=1.0, handleheight=1.0,
                 handletextpad=0.6, borderpad=0.6, labelspacing=0.5, borderaxespad=0, framealpha=1)
leg.get_frame().set_linewidth(2.5)

# ---------------- G ----------------
axg = px_axes(313, 552, 535, 773)
style(axg)
g = np.array(g_cols).T
axg.pcolormesh(np.arange(len(g_cols) + 1), np.arange(0, 105, 5), g, cmap=bw_cmap, vmin=BW_MIN, vmax=BW_MAX)
axg.add_patch(Rectangle((g_marked_topology, 2.4), 1, 2.8, color=GREEN, zorder=3))
axg.set_xlim(-0.67, 20.57)
axg.set_ylim(0, 104.7)
axg.set_xticks([])
axg.set_yticks([0, 25, 50, 75, 100])
axg.tick_params(labelsize=9, pad=2)
axg.set_xlabel('Topologies', fontsize=9)
axg.set_ylabel('Percentage', fontsize=9)
axg.xaxis.set_label_coords(0.5, -0.086)
axg.yaxis.set_label_coords(-0.131, 0.5)

# ---------------- overlay: diagrams, labels, arrows ----------------
ov = fig.add_axes([0, 0, 1, 1], zorder=10)
ov.set_xlim(0, W)
ov.set_ylim(H, 0)
ov.axis('off')

for lab, (x, y) in zip('ABCDEFGH', [(6, 12), (253, 12), (8, 274), (259, 274), (486, 274), (8, 551), (279, 548), (571, 549)]):
    ov.text(x, y, lab, fontsize=13, ha='left', va='center')

# panel A network
a_nodes = {'1': (64, 137), '2': (187, 137), '3': (126, 38)}
a_lines = [((105, 56), (72, 115)), ((118, 63), (85, 123)), ((147, 56), (180, 115)), ((134, 63), (167, 123)),
           ((92, 130), (162, 130)), ((92, 144), (162, 144)), ((75, 168), (109, 228)), ((175, 168), (140, 228))]
for p, q in a_lines:
    ov.plot([p[0], q[0]], [p[1], q[1]], color='black', lw=3.6, solid_capstyle='butt')
grad = ['#b818c0', '#c82ad0', '#d43cdc', '#de55e6', '#e670ec', '#ee8ef2', '#f4aef6']
for name, (x, y) in a_nodes.items():
    for k, col in enumerate(grad):
        ov.add_patch(Circle((x - k * 0.6, y - k * 0.6), 18 * (1 - k / 8.5), color=col, lw=0))
    ov.add_patch(Circle((x, y), 18, fill=False, ec='black', lw=2))
    ov.text(x, y + 1, name, fontsize=15, ha='center', va='center')
ov.text(127, 245, 'Input', fontsize=15, ha='center', va='center')

# panel B arrows and labels
ov.annotate('', xy=(522, 40), xytext=(447, 66),
            arrowprops=dict(arrowstyle='->', color='#333', lw=0.8, connectionstyle='arc3,rad=0.25'))
ov.annotate('', xy=(522, 216), xytext=(447, 188),
            arrowprops=dict(arrowstyle='->', color='#333', lw=0.8, connectionstyle='arc3,rad=-0.25'))
ov.text(496, 26, 'Curvature', fontsize=9, ha='center', va='center')
ov.text(474, 236, 'Separation speed', fontsize=9, ha='center', va='center')
ov.text(367, 228, 'x2', fontsize=11, fontweight='bold', ha='center', va='center')
ov.text(263, 124, 'x3', fontsize=11, fontweight='bold', ha='center', va='center')

# panel C annotation
ov.text(62, 273, 'NT-GRN', fontsize=8.5, ha='center', va='center')
ov.plot([62, 62], [280, 318], color='black', lw=0.9)

# panel E colorbar title
ov.text(750, 303, 'Boundary\nwidth', fontsize=8.5, ha='center', va='center', linespacing=1.2)

# panel F arrow
ov.add_patch(FancyArrow(60, 585, 0, 173, width=4.5, head_width=19, head_length=30,
                        length_includes_head=True, color=GREEN, lw=0))
ov.text(72, 576, 'NT-GRN', fontsize=9, ha='center', va='center')

# panel H networks
R = 6.5


def seg(p, q, off, shrink_end):
    p, q = np.array(p, float), np.array(q, float)
    u = (q - p) / np.hypot(*(q - p))
    n = np.array([-u[1], u[0]])
    s = p + u * (R + 1) + n * off
    e = q - u * (R + shrink_end) + n * off
    return s, e, n


def inhib(p, q, off=0.0):
    s, e, n = seg(p, q, off, 1.5)
    ov.plot([s[0], e[0]], [s[1], e[1]], color='black', lw=1.1)
    ov.plot([e[0] - n[0] * 3.5, e[0] + n[0] * 3.5], [e[1] - n[1] * 3.5, e[1] + n[1] * 3.5],
            color='black', lw=2.2, solid_capstyle='butt')


def activ(p, q, off=0.0):
    s, e, n = seg(p, q, off, 0.5)
    ov.annotate('', xy=e, xytext=s, arrowprops=dict(arrowstyle='-|>', color='red', lw=1.0,
                                                    mutation_scale=7, shrinkA=0, shrinkB=0))


def node(p, label, dark=False):
    ov.add_patch(Circle(p, R, fc='#7a0a7a' if dark else 'white', ec='#555' if not dark else '#7a0a7a', lw=0.8, zorder=5))
    ov.text(p[0], p[1], label, fontsize=5.5, ha='center', va='center', color='white' if dark else '#333', zorder=6)


h_nets = [(624, 573, '1'), (714, 573, '2'), (624, 694, '3'), (714, 694, '4')]
for x0, y0, lab in h_nets:
    n3 = (x0, y0)
    n1 = (x0 - 32, y0 + 56)
    n2 = (x0 + 32, y0 + 56)
    ns = (x0, y0 + 95)
    inhib(n1, n3, -3)
    inhib(n3, n1, -3)
    inhib(n1, n2, -4.5)
    inhib(n2, n1, -4.5)
    activ(ns, n1)
    if lab == '1':
        activ(n3, n2)
    if lab == '2':
        activ(n3, n2)
        activ(ns, n2)
    if lab == '3':
        inhib(n2, n3)
        activ(ns, n2)
    if lab == '4':
        inhib(n2, n3, -2.5)
        activ(n3, n2, -2.5)
        activ(ns, n2)
    node(n3, 'x3')
    node(n1, 'x1')
    node(n2, 'x2')
    node(ns, 'xS', dark=True)
    ov.text(x0 - 38, y0, lab, fontsize=12, ha='center', va='center')
ov.add_patch(Rectangle((578, 680), 90, 122, fill=False, ec=GREEN, lw=2.5))

fig.savefig('out.png', dpi=100)
